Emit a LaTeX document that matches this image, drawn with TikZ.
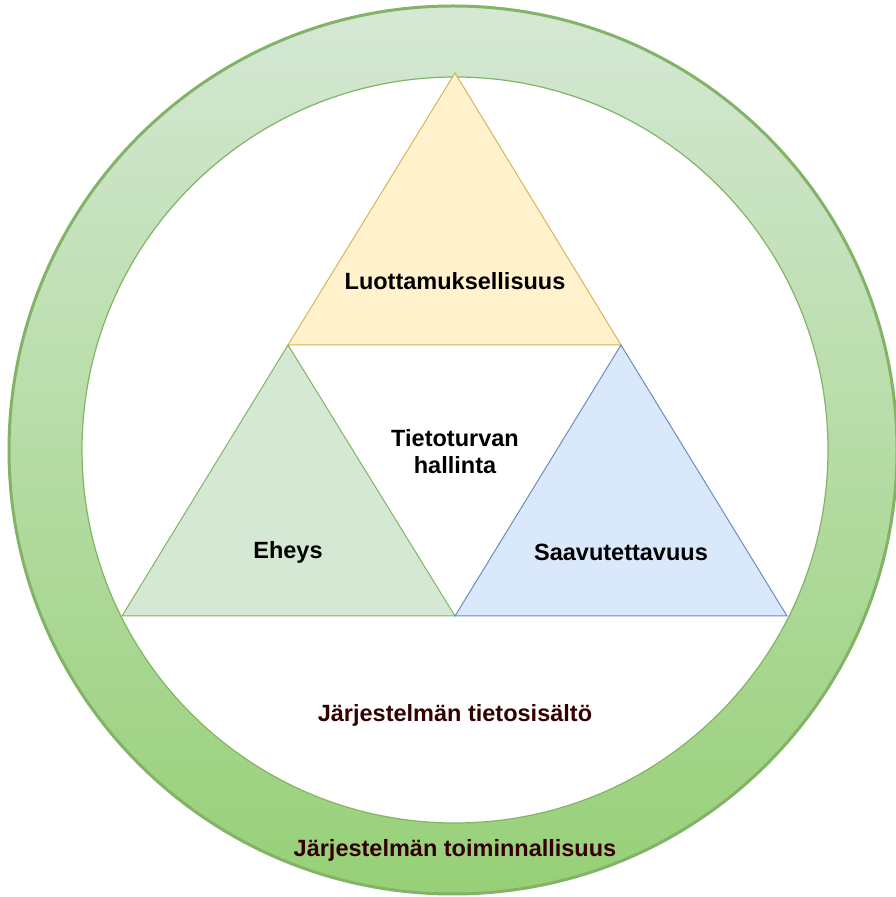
\documentclass[tikz,border=0pt]{standalone}
\usepackage{fontspec}
\setmainfont{Liberation Sans}
\usepackage{xcolor}
\usepackage{tikz}
\usetikzlibrary{positioning, calc}

\definecolor{hijau}{HTML}{82B366}
\definecolor{hijaumuda}{HTML}{D5E8D4}
\definecolor{hijautua}{HTML}{97D077}
\definecolor{kuning}{HTML}{FFF2CC}
\definecolor{kuninggaris}{HTML}{D6B656}
\definecolor{biru}{HTML}{DAE8FC}
\definecolor{birugaris}{HTML}{6C8EBF}
\definecolor{coklat}{HTML}{330000}

\begin{document}
\begin{tikzpicture}[
    x=1pt, y=1pt,
    font=\fontsize{23.5}{27}\selectfont\bfseries,
    label/.style={align=center, text=black},
    labelluar/.style={align=center, text=coklat},
    segitiga/.style={line width=1pt, line join=miter}
  ]
    \useasboundingbox (0,0) rectangle (896,897);

    % lingkaran luar dan dalam
    \shade[top color=hijaumuda, bottom color=hijautua] (453,447) circle (444);
    \draw[hijau, line width=3pt] (453,447) circle (444);
    \draw[hijau, fill=white, line width=1.2pt] (455,447) circle (373);

    % titik sudut segitiga
    \coordinate (puncak) at (455,824);
    \coordinate (kiri) at (288,552);
    \coordinate (kanan) at (621,552);
    \coordinate (bawahkiri) at (122,281);
    \coordinate (bawahtengah) at (455,281);
    \coordinate (bawahkanan) at (787,281);

    \draw[segitiga, fill=kuning, draw=kuninggaris] (puncak) -- (kanan) -- (kiri) -- cycle;
    \draw[segitiga, fill=hijaumuda, draw=hijau] (kiri) -- (bawahtengah) -- (bawahkiri) -- cycle;
    \draw[segitiga, fill=biru, draw=birugaris] (kanan) -- (bawahkanan) -- (bawahtengah) -- cycle;

    \node[label] (rahasia) at (455,616) {Luottamuksellisuus};
    \node[label] (hallinta) at (455,445) {Tietoturvan\\hallinta};
    \node[label] (eheys) at (288,345) {Eheys};
    \node[label] (saatavuus) at (621,345) {Saavutettavuus};
    \node[labelluar] (isi) at (455,182) {Järjestelmän tietosisältö};
    \node[labelluar] (fungsi) at (455,47) {Järjestelmän toiminnallisuus};
  \end{tikzpicture}
\end{document}
